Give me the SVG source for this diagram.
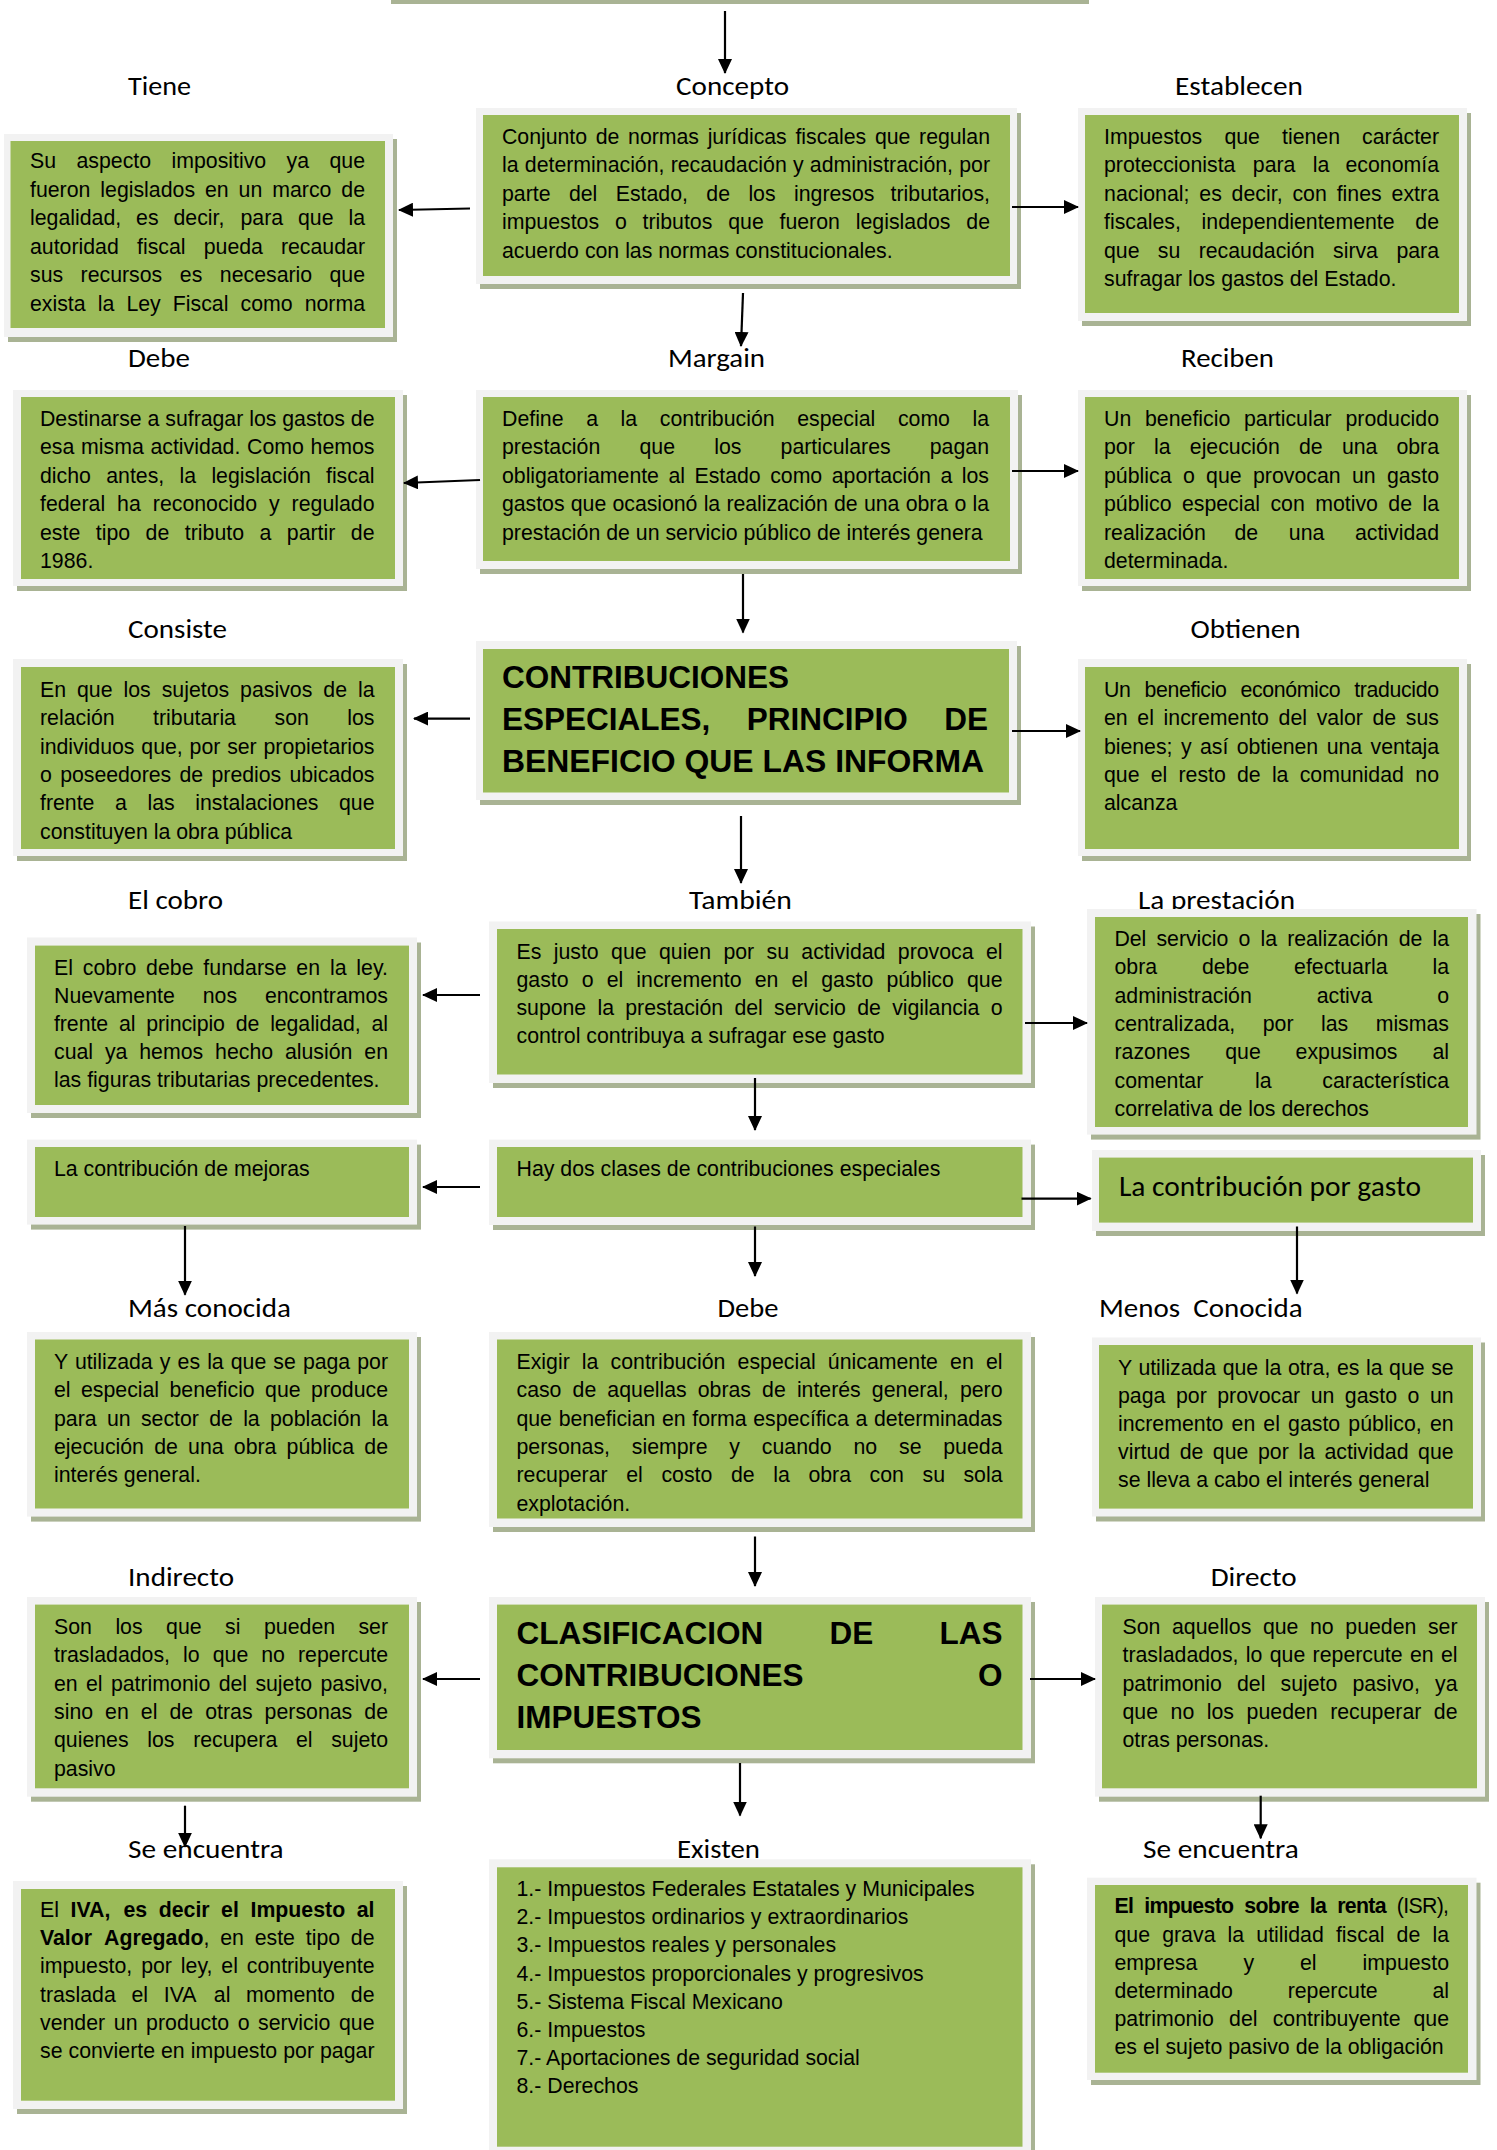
<svg xmlns="http://www.w3.org/2000/svg" width="1497" height="2150" viewBox="0 0 1497 2150">
<style>
.sh{fill:#a9b394}
.ob{fill:#f2f2f2}
.g{fill:#9bbb59}
.t{font-family:"Liberation Sans",Arial,sans-serif;font-size:21.3px;fill:#000}
.b{font-family:"Liberation Sans",Arial,sans-serif;font-size:31.5px;font-weight:bold;fill:#000}
.bw{font-weight:bold}
.lb{font-family:Carlito,Lato,"Noto Sans",sans-serif;font-size:27px;fill:#000}
.c{stroke:#000;stroke-width:2.2;fill:none;marker-end:url(#ah)}
.e{text-anchor:end}
</style>
<defs>
<marker id="ah" markerUnits="userSpaceOnUse" markerWidth="15" markerHeight="14" refX="14" refY="7" orient="auto"><path d="M0,0 L15,7 L0,14 z" fill="#000"/></marker>
<clipPath id="cDebe2"><rect x="497" y="1339.5" width="525.5" height="179"/></clipPath>
</defs>

<g id="labels" class="lb">
<text x="128" y="95" textLength="63" lengthAdjust="spacingAndGlyphs">Tiene</text>
<text x="676" y="95" textLength="113" lengthAdjust="spacingAndGlyphs">Concepto</text>
<text x="1175" y="95" textLength="128" lengthAdjust="spacingAndGlyphs">Establecen</text>
<text x="128" y="367" textLength="62" lengthAdjust="spacingAndGlyphs">Debe</text>
<text x="668" y="367" textLength="97" lengthAdjust="spacingAndGlyphs">Margain</text>
<text x="1181" y="367" textLength="93" lengthAdjust="spacingAndGlyphs">Reciben</text>
<text x="128" y="637.5" textLength="99" lengthAdjust="spacingAndGlyphs">Consiste</text>
<text x="1190.6" y="637.5" textLength="110" lengthAdjust="spacingAndGlyphs">Obtienen</text>
<text x="128" y="909" textLength="95" lengthAdjust="spacingAndGlyphs">El cobro</text>
<text x="689" y="909" textLength="103" lengthAdjust="spacingAndGlyphs">También</text>
<text x="1138" y="909" textLength="157" lengthAdjust="spacingAndGlyphs">La prestación</text>
<text x="128" y="1316.5" textLength="163" lengthAdjust="spacingAndGlyphs">Más conocida</text>
<text x="717.5" y="1316.5" textLength="61" lengthAdjust="spacingAndGlyphs">Debe</text>
<text x="1099" y="1316.5" textLength="203.6" lengthAdjust="spacingAndGlyphs" xml:space="preserve">Menos  Conocida</text>
<text x="128" y="1586" textLength="106" lengthAdjust="spacingAndGlyphs">Indirecto</text>
<text x="1210.7" y="1586" textLength="86" lengthAdjust="spacingAndGlyphs">Directo</text>
<text x="128" y="1858.3" textLength="155.6" lengthAdjust="spacingAndGlyphs">Se encuentra</text>
<text x="677" y="1858.3" textLength="83" lengthAdjust="spacingAndGlyphs">Existen</text>
<text x="1143" y="1858.3" textLength="155.8" lengthAdjust="spacingAndGlyphs">Se encuentra</text>
</g>

<g id="n-top">
<rect class="sh" x="391" y="-55" width="698" height="59"/>
<rect class="ob" x="387" y="-60" width="698" height="60"/>
</g>

<g id="n-concepto" class="t">
<rect class="sh" x="480" y="113" width="541" height="176"/>
<rect class="ob" x="476" y="108" width="541" height="176"/>
<rect class="g" x="483" y="115" width="527" height="161"/>
<text x="502" y="143.5" word-spacing="2.8" textLength="488" lengthAdjust="spacing">Conjunto de normas jurídicas fiscales que regulan</text>
<text x="502" y="172" word-spacing="0.3" textLength="488" lengthAdjust="spacing">la determinación, recaudación y administración, por</text>
<text y="200.5"><tspan x="502">parte</tspan> <tspan x="568.9">del</tspan> <tspan x="615.7">Estado,</tspan> <tspan x="706.3">de</tspan> <tspan x="748.4">los</tspan> <tspan x="794">ingresos</tspan> <tspan class="e" x="990">tributarios,</tspan></text>
<text y="229"><tspan x="502">impuestos</tspan> <tspan x="614.9">o</tspan> <tspan x="642.5">tributos</tspan> <tspan x="728.2">que</tspan> <tspan x="779.5">fueron</tspan> <tspan x="855.8">legislados</tspan> <tspan class="e" x="990">de</tspan></text>
<text x="502" y="257.5">acuerdo con las normas constitucionales.</text>
</g>

<g id="n-tiene" class="t">
<rect class="sh" x="8" y="139" width="389" height="203"/>
<rect class="ob" x="4" y="134" width="389" height="203"/>
<rect class="g" x="10.5" y="141" width="374.5" height="187"/>
<text y="168"><tspan x="30">Su</tspan> <tspan x="76.5">aspecto</tspan> <tspan x="171.5">impositivo</tspan> <tspan x="286.6">ya</tspan> <tspan class="e" x="365">que</tspan></text>
<text x="30" y="196.6" word-spacing="4" textLength="335" lengthAdjust="spacing">fueron legislados en un marco de</text>
<text y="225.2"><tspan x="30">legalidad,</tspan> <tspan x="136.1">es</tspan> <tspan x="173.5">decir,</tspan> <tspan x="240.5">para</tspan> <tspan x="298">que</tspan> <tspan class="e" x="365">la</tspan></text>
<text y="253.8"><tspan x="30">autoridad</tspan> <tspan x="137">fiscal</tspan> <tspan x="203.7">pueda</tspan> <tspan class="e" x="365">recaudar</tspan></text>
<text y="282.4"><tspan x="30">sus</tspan> <tspan x="80.6">recursos</tspan> <tspan x="179.8">es</tspan> <tspan x="219.8">necesario</tspan> <tspan class="e" x="365">que</tspan></text>
<text y="311"><tspan x="30">exista</tspan> <tspan x="97.7">la</tspan> <tspan x="126.4">Ley</tspan> <tspan x="172.8">Fiscal</tspan> <tspan x="240.5">como</tspan> <tspan class="e" x="365">norma</tspan></text>
</g>

<g id="n-establecen" class="t">
<rect class="sh" x="1082" y="113" width="389" height="213"/>
<rect class="ob" x="1078" y="108" width="389" height="213"/>
<rect class="g" x="1085" y="115" width="374" height="198"/>
<text y="143.5"><tspan x="1104">Impuestos</tspan> <tspan x="1224.4">que</tspan> <tspan x="1282">tienen</tspan> <tspan class="e" x="1439">carácter</tspan></text>
<text y="172"><tspan x="1104">proteccionista</tspan> <tspan x="1252.8">para</tspan> <tspan x="1312.8">la</tspan> <tspan class="e" x="1439">economía</tspan></text>
<text x="1104" y="200.5" word-spacing="3.8" textLength="335" lengthAdjust="spacing">nacional; es decir, con fines extra</text>
<text y="229"><tspan x="1104">fiscales,</tspan> <tspan x="1201.6">independientemente</tspan> <tspan class="e" x="1439">de</tspan></text>
<text y="257.5"><tspan x="1104">que</tspan> <tspan x="1157.8">su</tspan> <tspan x="1198.7">recaudación</tspan> <tspan x="1333">sirva</tspan> <tspan class="e" x="1439">para</tspan></text>
<text x="1104" y="286">sufragar los gastos del Estado.</text>
</g>

<g id="n-debe" class="t">
<rect class="sh" x="17" y="395" width="390" height="196"/>
<rect class="ob" x="13" y="390" width="390" height="196"/>
<rect class="g" x="21" y="397" width="374" height="182"/>
<text x="40" y="425.5" textLength="334.5" lengthAdjust="spacing">Destinarse a sufragar los gastos de</text>
<text x="40" y="454" word-spacing="0.8" textLength="334.5" lengthAdjust="spacing">esa misma actividad. Como hemos</text>
<text y="482.5"><tspan x="40">dicho</tspan> <tspan x="106.2">antes,</tspan> <tspan x="179.5">la</tspan> <tspan x="211.4">legislación</tspan> <tspan class="e" x="374.5">fiscal</tspan></text>
<text y="511"><tspan x="40">federal</tspan> <tspan x="117.1">ha</tspan> <tspan x="152.8">reconocido</tspan> <tspan x="269">y</tspan> <tspan class="e" x="374.5">regulado</tspan></text>
<text y="539.5"><tspan x="40">este</tspan> <tspan x="95.8">tipo</tspan> <tspan x="145.6">de</tspan> <tspan x="184.8">tributo</tspan> <tspan x="259.5">a</tspan> <tspan x="286.8">partir</tspan> <tspan class="e" x="374.5">de</tspan></text>
<text x="40" y="568">1986.</text>
</g>

<g id="n-margain" class="t">
<rect class="sh" x="480" y="395" width="542" height="179"/>
<rect class="ob" x="476" y="390" width="542" height="179"/>
<rect class="g" x="483" y="397" width="527" height="164"/>
<text y="425.5"><tspan x="502">Define</tspan> <tspan x="586.2">a</tspan> <tspan x="620.6">la</tspan> <tspan x="659.8">contribución</tspan> <tspan x="797.2">especial</tspan> <tspan x="897.9">como</tspan> <tspan class="e" x="989">la</tspan></text>
<text y="454"><tspan x="502">prestación</tspan> <tspan x="639.5">que</tspan> <tspan x="714.2">los</tspan> <tspan x="780.6">particulares</tspan> <tspan class="e" x="989">pagan</tspan></text>
<text x="502" y="482.5" word-spacing="3.7" textLength="487" lengthAdjust="spacing">obligatoriamente al Estado como aportación a los</text>
<text x="502" y="511" word-spacing="0.4" textLength="487" lengthAdjust="spacing">gastos que ocasionó la realización de una obra o la</text>
<text x="502" y="539.5">prestación de un servicio público de interés genera</text>
</g>

<g id="n-reciben" class="t">
<rect class="sh" x="1082" y="395" width="389" height="196"/>
<rect class="ob" x="1078" y="390" width="389" height="196"/>
<rect class="g" x="1085" y="397" width="374" height="182"/>
<text y="425.5"><tspan x="1104">Un</tspan> <tspan x="1145">beneficio</tspan> <tspan x="1244">particular</tspan> <tspan class="e" x="1439">producido</tspan></text>
<text y="454"><tspan x="1104">por</tspan> <tspan x="1154">la</tspan> <tspan x="1189.8">ejecución</tspan> <tspan x="1299">de</tspan> <tspan x="1341.9">una</tspan> <tspan class="e" x="1439">obra</tspan></text>
<text y="482.5"><tspan x="1104">pública</tspan> <tspan x="1182.9">o</tspan> <tspan x="1206.1">que</tspan> <tspan x="1253">provocan</tspan> <tspan x="1352">un</tspan> <tspan class="e" x="1439">gasto</tspan></text>
<text x="1104" y="511" word-spacing="4.5" textLength="335" lengthAdjust="spacing">público especial con motivo de la</text>
<text y="539.5"><tspan x="1104">realización</tspan> <tspan x="1234.4">de</tspan> <tspan x="1288.8">una</tspan> <tspan class="e" x="1439">actividad</tspan></text>
<text x="1104" y="568">determinada.</text>
</g>

<g id="n-consiste" class="t">
<rect class="sh" x="17" y="664" width="390" height="197"/>
<rect class="ob" x="13" y="659" width="390" height="197"/>
<rect class="g" x="21" y="667" width="374" height="182"/>
<text x="40" y="697" word-spacing="5" textLength="334.5" lengthAdjust="spacing">En que los sujetos pasivos de la</text>
<text y="725.3"><tspan x="40">relación</tspan> <tspan x="153.1">tributaria</tspan> <tspan x="274.5">son</tspan> <tspan class="e" x="374.5">los</tspan></text>
<text x="40" y="753.6" word-spacing="1" textLength="334.5" lengthAdjust="spacing">individuos que, por ser propietarios</text>
<text x="40" y="781.9" word-spacing="2.5" textLength="334.5" lengthAdjust="spacing">o poseedores de predios ubicados</text>
<text y="810.2"><tspan x="40">frente</tspan> <tspan x="115.1">a</tspan> <tspan x="147.5">las</tspan> <tspan x="195.3">instalaciones</tspan> <tspan class="e" x="374.5">que</tspan></text>
<text x="40" y="838.5">constituyen la obra pública</text>
</g>

<g id="n-contribuciones" class="b">
<rect class="sh" x="480" y="646" width="541" height="159"/>
<rect class="ob" x="476" y="641" width="541" height="159"/>
<rect class="g" x="483" y="649" width="526" height="143.5"/>
<text x="502" y="688">CONTRIBUCIONES</text>
<text y="730"><tspan x="502">ESPECIALES,</tspan> <tspan x="746.8">PRINCIPIO</tspan> <tspan class="e" x="988">DE</tspan></text>
<text x="502" y="772" textLength="482" lengthAdjust="spacingAndGlyphs">BENEFICIO QUE LAS INFORMA</text>
</g>

<g id="n-obtienen" class="t">
<rect class="sh" x="1082" y="664" width="389" height="197"/>
<rect class="ob" x="1078" y="659" width="389" height="197"/>
<rect class="g" x="1085" y="667" width="374" height="182"/>
<text x="1104" y="697" word-spacing="8.3" textLength="335" lengthAdjust="spacing">Un beneficio económico traducido</text>
<text x="1104" y="725.3" word-spacing="3.75" textLength="335" lengthAdjust="spacing">en el incremento del valor de sus</text>
<text x="1104" y="753.6" word-spacing="2.6" textLength="335" lengthAdjust="spacing">bienes; y así obtienen una ventaja</text>
<text y="781.9"><tspan x="1104">que</tspan> <tspan x="1150.7">el</tspan> <tspan x="1178.5">resto</tspan> <tspan x="1237">de</tspan> <tspan x="1271.9">la</tspan> <tspan x="1299.7">comunidad</tspan> <tspan class="e" x="1439">no</tspan></text>
<text x="1104" y="810.2">alcanza</text>
</g>

<g id="n-elcobro" class="t">
<rect class="sh" x="31" y="942.5" width="390" height="175.5"/>
<rect class="ob" x="27" y="937.5" width="390" height="175.5"/>
<rect class="g" x="35" y="945.6" width="374" height="159.4"/>
<text x="54" y="975" word-spacing="3.8" textLength="334" lengthAdjust="spacing">El cobro debe fundarse en la ley.</text>
<text y="1003"><tspan x="54">Nuevamente</tspan> <tspan x="202.7">nos</tspan> <tspan class="e" x="388">encontramos</tspan></text>
<text x="54" y="1031" word-spacing="5" textLength="334" lengthAdjust="spacing">frente al principio de legalidad, al</text>
<text x="54" y="1059" word-spacing="5.9" textLength="334" lengthAdjust="spacing">cual ya hemos hecho alusión en</text>
<text x="54" y="1087">las figuras tributarias precedentes.</text>
</g>

<g id="n-tambien" class="t">
<rect class="sh" x="493" y="926.5" width="542" height="161.5"/>
<rect class="ob" x="489" y="921.5" width="542" height="161.5"/>
<rect class="g" x="497" y="929" width="525.5" height="145.5"/>
<text x="516.5" y="958.6" word-spacing="6.4" textLength="486" lengthAdjust="spacing">Es justo que quien por su actividad provoca el</text>
<text x="516.5" y="987" word-spacing="7.2" textLength="486" lengthAdjust="spacing">gasto o el incremento en el gasto público que</text>
<text x="516.5" y="1015" word-spacing="5.5" textLength="486" lengthAdjust="spacing">supone la prestación del servicio de vigilancia o</text>
<text x="516.5" y="1043">control contribuya a sufragar ese gasto</text>
</g>

<g id="n-prestacion" class="t">
<rect class="sh" x="1091" y="914" width="389.5" height="225.6"/>
<rect class="ob" x="1087" y="909" width="389.5" height="225.6"/>
<rect class="g" x="1095" y="917" width="373" height="210"/>
<text x="1114.5" y="946" word-spacing="4.4" textLength="334.5" lengthAdjust="spacing">Del servicio o la realización de la</text>
<text y="974.3"><tspan x="1114.5">obra</tspan> <tspan x="1201.9">debe</tspan> <tspan x="1294.1">efectuarla</tspan> <tspan class="e" x="1449">la</tspan></text>
<text y="1002.6"><tspan x="1114.5">administración</tspan> <tspan x="1316.7">activa</tspan> <tspan class="e" x="1449">o</tspan></text>
<text y="1030.9"><tspan x="1114.5">centralizada,</tspan> <tspan x="1262.7">por</tspan> <tspan x="1321">las</tspan> <tspan class="e" x="1449">mismas</tspan></text>
<text y="1059.2"><tspan x="1114.5">razones</tspan> <tspan x="1225.2">que</tspan> <tspan x="1295.6">expusimos</tspan> <tspan class="e" x="1449">al</tspan></text>
<text y="1087.5"><tspan x="1114.5">comentar</tspan> <tspan x="1255.1">la</tspan> <tspan class="e" x="1449">característica</tspan></text>
<text x="1114.5" y="1115.8">correlativa de los derechos</text>
</g>

<g id="n-mejoras" class="t">
<rect class="sh" x="31" y="1144.6" width="390" height="85"/>
<rect class="ob" x="27" y="1139.6" width="390" height="85"/>
<rect class="g" x="35" y="1147" width="374" height="70"/>
<text x="54" y="1176">La contribución de mejoras</text>
</g>

<g id="n-haydos" class="t">
<rect class="sh" x="493" y="1144.6" width="542" height="85.4"/>
<rect class="ob" x="489" y="1139.6" width="542" height="85.4"/>
<rect class="g" x="497" y="1147" width="525.5" height="70"/>
<text x="516.5" y="1176">Hay dos clases de contribuciones especiales</text>
</g>

<g id="n-porgasto">
<rect class="sh" x="1096" y="1155" width="389" height="81"/>
<rect class="ob" x="1092" y="1150" width="389" height="81"/>
<rect class="g" x="1099" y="1157.6" width="374" height="65"/>
<text class="lb" x="1119" y="1196" style="font-size:28.5px" textLength="302" lengthAdjust="spacingAndGlyphs">La contribución por gasto</text>
</g>

<g id="n-masconocida" class="t">
<rect class="sh" x="31" y="1337" width="390" height="184.6"/>
<rect class="ob" x="27" y="1332" width="390" height="184.6"/>
<rect class="g" x="35" y="1339.5" width="374" height="169"/>
<text x="54" y="1369" word-spacing="1.3" textLength="334" lengthAdjust="spacing">Y utilizada y es la que se paga por</text>
<text x="54" y="1397.3" word-spacing="4.5" textLength="334" lengthAdjust="spacing">el especial beneficio que produce</text>
<text x="54" y="1425.6" word-spacing="4.4" textLength="334" lengthAdjust="spacing">para un sector de la población la</text>
<text x="54" y="1453.9" word-spacing="4.3" textLength="334" lengthAdjust="spacing">ejecución de una obra pública de</text>
<text x="54" y="1482.2">interés general.</text>
</g>

<g id="n-debe2" class="t">
<rect class="sh" x="493" y="1337" width="542" height="195"/>
<rect class="ob" x="489" y="1332" width="542" height="195"/>
<rect class="g" x="497" y="1339.5" width="525.5" height="179"/>
<text x="516.5" y="1369" word-spacing="6.2" textLength="486" lengthAdjust="spacing">Exigir la contribución especial únicamente en el</text>
<text x="516.5" y="1397.3" word-spacing="5.2" textLength="486" lengthAdjust="spacing">caso de aquellas obras de interés general, pero</text>
<text x="516.5" y="1425.6" word-spacing="0.9" textLength="486" lengthAdjust="spacing">que benefician en forma específica a determinadas</text>
<text y="1453.9"><tspan x="516.5">personas,</tspan> <tspan x="631.8">siempre</tspan> <tspan x="729.3">y</tspan> <tspan x="761.8">cuando</tspan> <tspan x="853.5">no</tspan> <tspan x="899">se</tspan> <tspan class="e" x="1002.5">pueda</tspan></text>
<text y="1482.2"><tspan x="516.5">recuperar</tspan> <tspan x="626.2">el</tspan> <tspan x="661.4">costo</tspan> <tspan x="730.9">de</tspan> <tspan x="773.2">la</tspan> <tspan x="808.4">obra</tspan> <tspan x="869.6">con</tspan> <tspan x="922.5">su</tspan> <tspan class="e" x="1002.5">sola</tspan></text>
<text x="516.5" y="1510.5" clip-path="url(#cDebe2)">explotación.</text>
</g>

<g id="n-menosconocida" class="t">
<rect class="sh" x="1096" y="1342.5" width="389" height="179"/>
<rect class="ob" x="1092" y="1337.5" width="389" height="179"/>
<rect class="g" x="1099" y="1345" width="374" height="163.6"/>
<text x="1118" y="1374.6" word-spacing="0.8" textLength="335.6" lengthAdjust="spacing">Y utilizada que la otra, es la que se</text>
<text x="1118" y="1402.8" word-spacing="4.6" textLength="335.6" lengthAdjust="spacing">paga por provocar un gasto o un</text>
<text x="1118" y="1431" word-spacing="2.2" textLength="335.6" lengthAdjust="spacing">incremento en el gasto público, en</text>
<text x="1118" y="1459.2" word-spacing="3.6" textLength="335.6" lengthAdjust="spacing">virtud de que por la actividad que</text>
<text x="1118" y="1487.4">se lleva a cabo el interés general</text>
</g>

<g id="n-indirecto" class="t">
<rect class="sh" x="31" y="1602" width="390" height="199.7"/>
<rect class="ob" x="27" y="1597" width="390" height="199.7"/>
<rect class="g" x="35" y="1604.6" width="374" height="183.7"/>
<text y="1634"><tspan x="54">Son</tspan> <tspan x="115.4">los</tspan> <tspan x="166.1">que</tspan> <tspan x="225.1">si</tspan> <tspan x="264">pueden</tspan> <tspan class="e" x="388">ser</tspan></text>
<text y="1662.3"><tspan x="54">trasladados,</tspan> <tspan x="183">lo</tspan> <tspan x="212.7">que</tspan> <tspan x="261.2">no</tspan> <tspan class="e" x="388">repercute</tspan></text>
<text x="54" y="1690.6" word-spacing="2.4" textLength="334" lengthAdjust="spacing">en el patrimonio del sujeto pasivo,</text>
<text x="54" y="1718.9" word-spacing="6.1" textLength="334" lengthAdjust="spacing">sino en el de otras personas de</text>
<text y="1747.2"><tspan x="54">quienes</tspan> <tspan x="147.3">los</tspan> <tspan x="193.2">recupera</tspan> <tspan x="295.9">el</tspan> <tspan class="e" x="388">sujeto</tspan></text>
<text x="54" y="1775.5">pasivo</text>
</g>

<g id="n-clasificacion" class="b">
<rect class="sh" x="493" y="1602" width="542" height="161.3"/>
<rect class="ob" x="489" y="1597" width="542" height="161.3"/>
<rect class="g" x="497" y="1604.6" width="525.5" height="145.4"/>
<text y="1643.7"><tspan x="516.5">CLASIFICACION</tspan> <tspan x="829.5">DE</tspan> <tspan class="e" x="1002.5">LAS</tspan></text>
<text y="1685.8"><tspan x="516.5">CONTRIBUCIONES</tspan> <tspan class="e" x="1002.5">O</tspan></text>
<text x="516.5" y="1728">IMPUESTOS</text>
</g>

<g id="n-directo" class="t">
<rect class="sh" x="1099" y="1602" width="390" height="199.7"/>
<rect class="ob" x="1095" y="1597" width="390" height="199.7"/>
<rect class="g" x="1102" y="1604.6" width="375" height="183.7"/>
<text y="1634"><tspan x="1122.5">Son</tspan> <tspan x="1172">aquellos</tspan> <tspan x="1262.9">que</tspan> <tspan x="1310">no</tspan> <tspan x="1345.3">pueden</tspan> <tspan class="e" x="1457.5">ser</tspan></text>
<text x="1122.5" y="1662.3" word-spacing="1.4" textLength="335" lengthAdjust="spacing">trasladados, lo que repercute en el</text>
<text y="1690.6"><tspan x="1122.5">patrimonio</tspan> <tspan x="1237">del</tspan> <tspan x="1280.5">sujeto</tspan> <tspan x="1352.4">pasivo,</tspan> <tspan class="e" x="1457.5">ya</tspan></text>
<text y="1718.9"><tspan x="1122.5">que</tspan> <tspan x="1170.6">no</tspan> <tspan x="1206.8">los</tspan> <tspan x="1246.6">pueden</tspan> <tspan x="1330.2">recuperar</tspan> <tspan class="e" x="1457.5">de</tspan></text>
<text x="1122.5" y="1747.2">otras personas.</text>
</g>

<g id="n-iva" class="t">
<rect class="sh" x="17" y="1886" width="390" height="228"/>
<rect class="ob" x="13" y="1881" width="390" height="228"/>
<rect class="g" x="21" y="1889" width="374" height="211.7"/>
<text y="1916.7"><tspan x="40">El</tspan> <tspan class="bw" x="70.5">IVA,</tspan> <tspan class="bw" x="123.4">es</tspan> <tspan class="bw" x="158.7">decir</tspan> <tspan class="bw" x="221.1">el</tspan> <tspan class="bw" x="250.5">Impuesto</tspan> <tspan class="bw e" x="374.5">al</tspan></text>
<text y="1945"><tspan class="bw" x="40">Valor</tspan> <tspan x="104.1"><tspan class="bw">Agregado</tspan>,</tspan> <tspan x="220.2">en</tspan> <tspan x="254.7">este</tspan> <tspan x="305.8">tipo</tspan> <tspan class="e" x="374.5">de</tspan></text>
<text x="40" y="1973.3" word-spacing="3.1" textLength="334.5" lengthAdjust="spacing">impuesto, por ley, el contribuyente</text>
<text y="2001.6"><tspan x="40">traslada</tspan> <tspan x="131.5">el</tspan> <tspan x="163.8">IVA</tspan> <tspan x="213.8">al</tspan> <tspan x="246.1">momento</tspan> <tspan class="e" x="374.5">de</tspan></text>
<text x="40" y="2029.9" word-spacing="2.7" textLength="334.5" lengthAdjust="spacing">vender un producto o servicio que</text>
<text x="40" y="2058.2" textLength="334.5" lengthAdjust="spacing">se convierte en impuesto por pagar</text>
</g>

<g id="n-existen" class="t">
<rect class="sh" x="493" y="1864.3" width="542" height="296"/>
<rect class="ob" x="489" y="1859.3" width="542" height="296"/>
<rect class="g" x="497" y="1867.3" width="525.5" height="279.4"/>
<text x="516.5" y="1896">1.- Impuestos Federales Estatales y Municipales</text>
<text x="516.5" y="1924.2">2.- Impuestos ordinarios y extraordinarios</text>
<text x="516.5" y="1952.4">3.- Impuestos reales y personales</text>
<text x="516.5" y="1980.6">4.- Impuestos proporcionales y progresivos</text>
<text x="516.5" y="2008.8">5.- Sistema Fiscal Mexicano</text>
<text x="516.5" y="2037">6.- Impuestos</text>
<text x="516.5" y="2065.2">7.- Aportaciones de seguridad social</text>
<text x="516.5" y="2093.4">8.- Derechos</text>
</g>

<g id="n-isr" class="t">
<rect class="sh" x="1091" y="1882.7" width="389.5" height="202.3"/>
<rect class="ob" x="1087" y="1877.7" width="389.5" height="202.3"/>
<rect class="g" x="1095" y="1885" width="373" height="187.7"/>
<text x="1114.5" y="1913.3" word-spacing="5.6" textLength="334.5" lengthAdjust="spacing"><tspan class="bw">El impuesto sobre la renta</tspan> (ISR),</text>
<text x="1114.5" y="1941.5" word-spacing="6.2" textLength="334.5" lengthAdjust="spacing">que grava la utilidad fiscal de la</text>
<text y="1969.7"><tspan x="1114.5">empresa</tspan> <tspan x="1243.4">y</tspan> <tspan x="1300">el</tspan> <tspan class="e" x="1449">impuesto</tspan></text>
<text y="1997.9"><tspan x="1114.5">determinado</tspan> <tspan x="1287.7">repercute</tspan> <tspan class="e" x="1449">al</tspan></text>
<text y="2026.1"><tspan x="1114.5">patrimonio</tspan> <tspan x="1229.1">del</tspan> <tspan x="1272.7">contribuyente</tspan> <tspan class="e" x="1449">que</tspan></text>
<text x="1114.5" y="2054.3">es el sujeto pasivo de la obligación</text>
</g>

<g id="connectors">
<line class="c" x1="725" y1="11" x2="725" y2="73"/>
<line class="c" x1="470" y1="208.5" x2="399" y2="210"/>
<line class="c" x1="1012" y1="207" x2="1078" y2="207"/>
<line class="c" x1="743" y1="293" x2="741" y2="346"/>
<line class="c" x1="480" y1="480" x2="404" y2="483"/>
<line class="c" x1="1012" y1="471" x2="1078" y2="471"/>
<line class="c" x1="743" y1="574" x2="743" y2="632.5"/>
<line class="c" x1="470" y1="718.6" x2="414" y2="718.6"/>
<line class="c" x1="1012" y1="731" x2="1080" y2="731"/>
<line class="c" x1="741" y1="816" x2="741" y2="883"/>
<line class="c" x1="480" y1="995" x2="423" y2="995"/>
<line class="c" x1="1025" y1="1023" x2="1087" y2="1023"/>
<line class="c" x1="755" y1="1078" x2="755" y2="1130"/>
<line class="c" x1="480" y1="1187" x2="423" y2="1187"/>
<line class="c" x1="1021.5" y1="1198.6" x2="1090.6" y2="1198.6"/>
<line class="c" x1="185" y1="1226" x2="185" y2="1294.7"/>
<line class="c" x1="755" y1="1226.5" x2="755" y2="1276"/>
<line class="c" x1="1297" y1="1226.5" x2="1297" y2="1293.5"/>
<line class="c" x1="755" y1="1536.5" x2="755" y2="1586"/>
<line class="c" x1="480" y1="1679" x2="423" y2="1679"/>
<line class="c" x1="1030" y1="1679" x2="1095" y2="1679"/>
<line class="c" x1="740" y1="1763" x2="740" y2="1815.5"/>
<line class="c" x1="185" y1="1805.7" x2="185" y2="1846.7"/>
<line class="c" x1="1260.7" y1="1795.7" x2="1260.7" y2="1838.3"/>
</g>
</svg>
